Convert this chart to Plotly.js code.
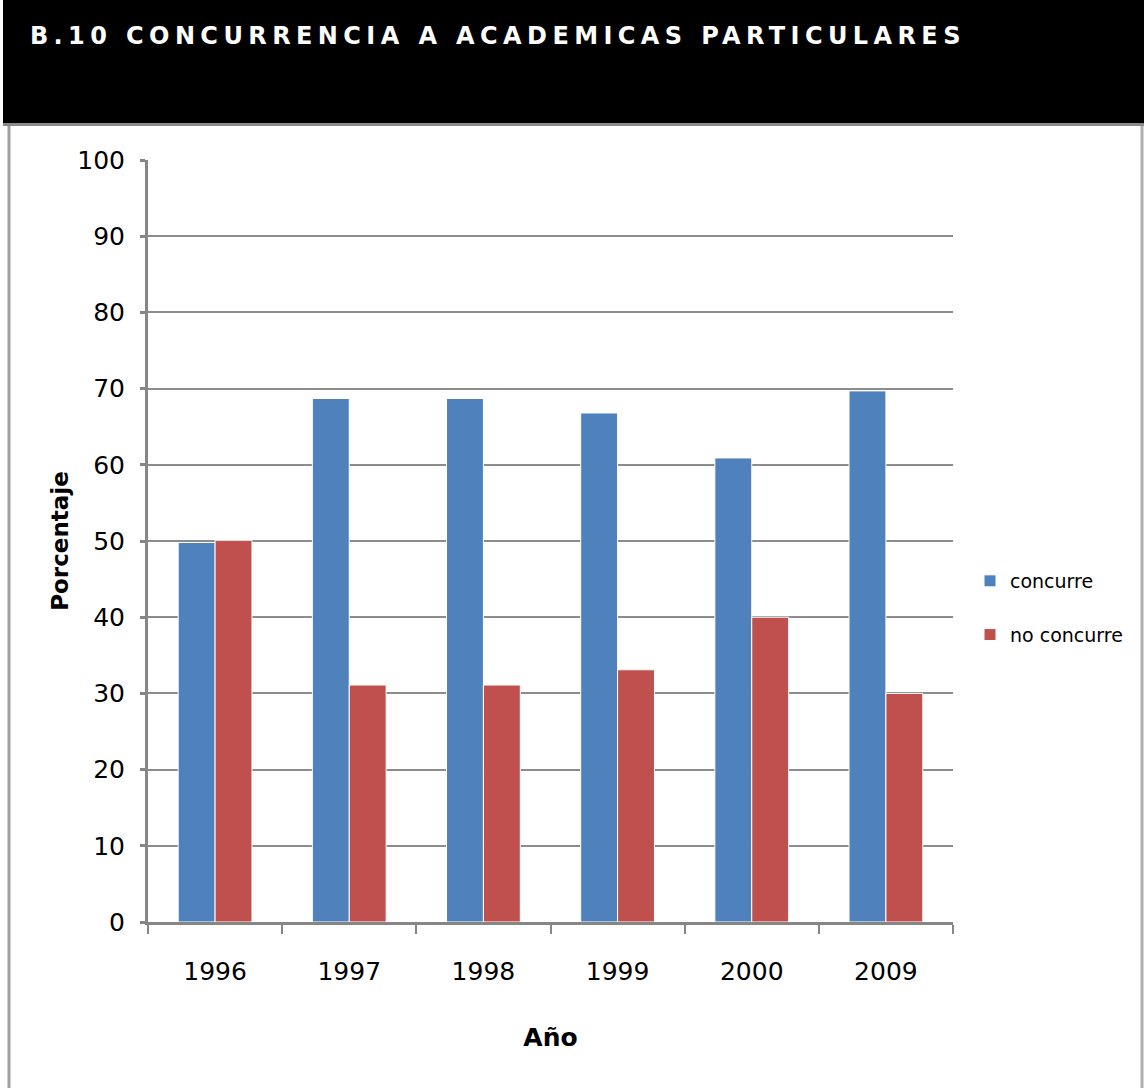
<!DOCTYPE html>
<html>
<head>
<meta charset="utf-8">
<script src="https://cdn.plot.ly/plotly-3.0.1.min.js"></script>
<style>
html,body{margin:0;padding:0;background:#fff;}
#chart{width:1144px;height:1088px;}
</style>
</head>
<body>
<div id="chart"></div>
<script>
var years = ['1996','1997','1998','1999','2000','2009'];
var concurre = [49.8, 68.7, 68.7, 66.8, 60.9, 69.7];
var noConcurre = [50.1, 31.1, 31.1, 33.1, 40.0, 30.0];
var seriesNames = ['concurre', 'no concurre'];
var yTicks = [0,10,20,30,40,50,60,70,80,90,100];
var titleText = 'B.10 CONCURRENCIA A ACADEMICAS PARTICULARES';
var xTitle = 'Año';
var yTitle = 'Porcentaje';

var fam = '"DejaVu Sans", sans-serif';

var traces = [
  {type:'bar', name:seriesNames[0], x:years, y:concurre, legendgroup:'a',
   marker:{color:'#4f81bd', line:{color:'#ffffff', width:1}}},
  {type:'bar', name:seriesNames[1], x:years, y:noConcurre, legendgroup:'b',
   marker:{color:'#c0504d', line:{color:'#ffffff', width:1}}}
];

var layout = {
  width:1144, height:1088,
  paper_bgcolor:'#ffffff', plot_bgcolor:'#ffffff',
  margin:{l:148, r:191, t:160, b:166, pad:0, autoexpand:false},
  barmode:'group', bargap:0.45, bargroupgap:0,
  showlegend:true,
  legend:{xref:'container', yref:'container', x:970/1144, y:(1088-608)/1088, xanchor:'left', yanchor:'middle',
          tracegroupgap:26, itemwidth:30,
          font:{family:fam, size:19, color:'#000'}, bgcolor:'rgba(0,0,0,0)'},
  font:{family:fam, color:'#000'},
  xaxis:{type:'category', showline:true, linecolor:'#868686', linewidth:3,
         ticks:'outside', tickson:'boundaries', ticklen:9, tickwidth:2, tickcolor:'#868686',
         tickfont:{family:fam, size:25, color:'#000'}, ticklabelstandoff:25,
         showgrid:false, zeroline:false, automargin:false,
         title:{text:'<b>'+xTitle+'</b>', font:{family:fam, size:25, color:'#000'}, standoff:44}},
  yaxis:{range:[0,100], tickvals:yTicks, showline:true, linecolor:'#868686', linewidth:3,
         ticks:'outside', ticklen:5, tickwidth:3, tickcolor:'#868686',
         tickfont:{family:fam, size:25, color:'#000'}, ticklabelstandoff:10,
         showgrid:true, gridcolor:'#8c8c8c', gridwidth:2, zeroline:false, automargin:false,
         title:{text:'<b>'+yTitle+'</b>', font:{family:fam, size:23, color:'#000'}, standoff:3}},
  shapes:[
    {type:'line', xref:'paper', yref:'paper', layer:'above',
     x0:(9-148)/805, x1:(9-148)/805, y0:(922-124)/762, y1:(922-1088)/762, line:{color:'#a0a0a0', width:3}},
    {type:'line', xref:'paper', yref:'paper', layer:'above',
     x0:(1142-148)/805, x1:(1142-148)/805, y0:(922-124)/762, y1:(922-1088)/762, line:{color:'#b0b0b0', width:3}},
    {type:'rect', xref:'paper', yref:'paper', layer:'above',
     x0:(3-148)/805, x1:(1144-148)/805, y0:(922-0)/762, y1:(922-123)/762, fillcolor:'#000000', line:{width:0}},
    {type:'line', xref:'paper', yref:'paper', layer:'above',
     x0:(3-148)/805, x1:(1144-148)/805, y0:(922-124.5)/762, y1:(922-124.5)/762, line:{color:'#8a8a8a', width:3}}
  ],
  annotations:[
    {xref:'paper', yref:'paper', x:(498-148)/805, y:(922-36)/762, xanchor:'center', yanchor:'middle',
     text:titleText, showarrow:false, font:{family:fam, size:24, color:'#ffffff', weight:'bold'}}
  ]
};

Plotly.newPlot('chart', traces, layout, {displayModeBar:false, staticPlot:true}).then(function(){
  document.querySelectorAll('.annotation-text').forEach(function(t){ t.style.letterSpacing='5.4px'; });
});
</script>
</body>
</html>
